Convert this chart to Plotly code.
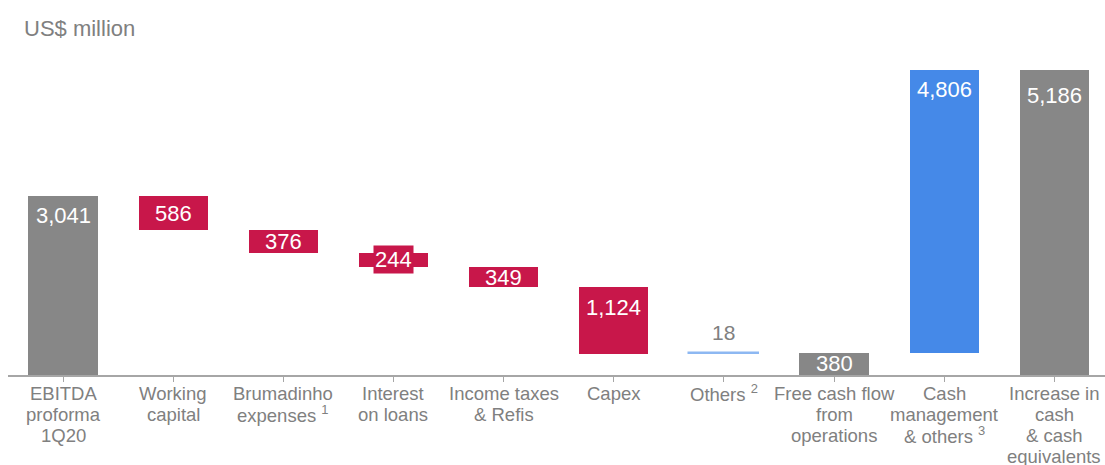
import plotly.graph_objects as go

categories = [
    "EBITDA<br>proforma<br>1Q20",
    "Working<br>capital",
    "Brumadinho<br>expenses <sup>1</sup>",
    "Interest<br>on loans",
    "Income taxes<br>& Refis",
    "Capex",
    "Others <sup>2</sup>",
    "Free cash flow<br>from<br>operations",
    "Cash<br>management<br>& others <sup>3</sup>",
    "Increase in<br>cash<br>& cash<br>equivalents",
]
values = [3041, -586, -376, -244, -349, -1124, 18, 380, 4806, 5186]
kinds = ["total", "rel", "rel", "rel", "rel", "rel", "rel", "total", "rel", "total"]
labels = ["3,041", "586", "376", "244", "349", "1,124", "18", "380", "4,806", "5,186"]

GRAY = "#878787"
RED = "#C8174A"
BLUE = "#4589E8"
LBLUE = "#8DB8F2"
TXT = "#808080"
FONT = "Arial, Liberation Sans, sans-serif"

colors = []
bases = []
heights = []
running = 0
for v, k in zip(values, kinds):
    if k == "total":
        bases.append(0)
        heights.append(v)
        running = v
        colors.append(GRAY)
    else:
        if v < 0:
            bases.append(running + v)
            heights.append(-v)
            colors.append(RED)
        else:
            bases.append(running)
            heights.append(v)
            colors.append(BLUE if v > 100 else LBLUE)
        running += v

x = list(range(len(categories)))

fig = go.Figure()
fig.add_trace(go.Bar(
    x=x, y=heights, base=bases, width=0.63,
    marker=dict(color=colors, line=dict(color=colors, width=[0, 0, 0, 0, 0, 0, 1.5, 0, 0, 0])),
    hoverinfo="skip",
))

# placement: "top" = inside near top, "mid" = centered, "above" = above bar, "box" = centered with box
placement = ["top", "mid", "mid", "box", "mid", "top", "above", "mid", "top", "top"]
annotations = []
for i in x:
    top = bases[i] + heights[i]
    mid = bases[i] + heights[i] / 2
    p = placement[i]
    a = dict(x=i, xref="x", yref="y", text=labels[i], showarrow=False,
             font=dict(family=FONT, size=22, color="white"))
    if p == "top":
        a.update(y=top, yanchor="middle", yshift=-20 if i != 9 else -26)
    elif p == "mid":
        a.update(y=mid, yanchor="middle")
    elif p == "above":
        a.update(y=top, yanchor="bottom", yshift=7, font=dict(family=FONT, size=21, color=TXT))
    elif p == "box":
        a.update(y=mid, yanchor="middle", bgcolor=RED, borderpad=1)
    annotations.append(a)

# category labels, one text line per annotation for tight line spacing
for i, cat in enumerate(categories):
    for j, line in enumerate(cat.split("<br>")):
        annotations.append(dict(
            x=i, xref="x", y=0, yref="paper", text=line, showarrow=False,
            yanchor="middle", yshift=-(18 + 21 * j),
            font=dict(family=FONT, size=18.5, color=TXT),
        ))

annotations.append(dict(
    text="US$ million", xref="paper", yref="paper", x=0, y=1, xanchor="left", yanchor="middle",
    xshift=14, yshift=12, showarrow=False,
    font=dict(family=FONT, size=22, color=TXT),
))

fig.update_layout(
    width=1105, height=465,
    margin=dict(l=8, r=0, t=40, b=90, autoexpand=False),
    paper_bgcolor="white", plot_bgcolor="white",
    showlegend=False, bargap=0,
    annotations=annotations,
    font=dict(family=FONT, color=TXT),
)
fig.update_xaxes(
    range=[-0.5, 9.46], tickmode="array", tickvals=x, showticklabels=False,
    showline=True, linecolor="#a6a6a6", linewidth=1.5,
    ticks="outside", tickson="boundaries", ticklen=5, tickcolor="#a6a6a6",
    showgrid=False, zeroline=False, automargin=False,
)
fig.update_yaxes(range=[0, 5688], visible=False, showgrid=False, zeroline=False, automargin=False)

fig.write_html("out.html")
